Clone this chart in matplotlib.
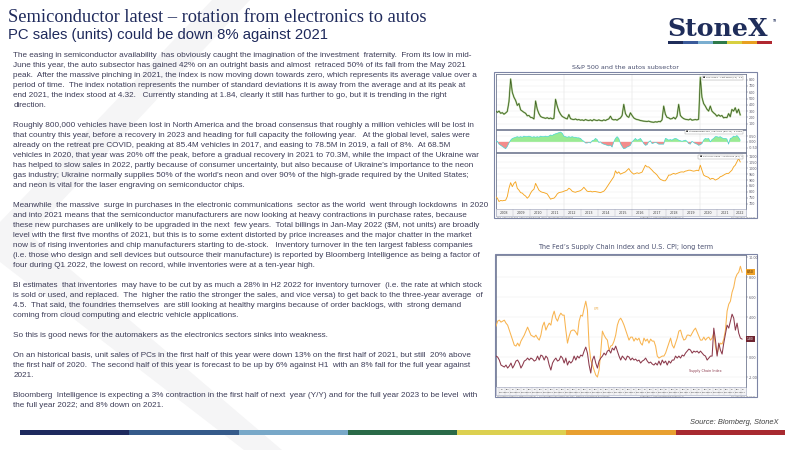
import matplotlib

matplotlib.use("Agg")
import matplotlib.pyplot as plt
from matplotlib.patches import Rectangle, Polygon
import numpy as np


W, H = 800, 450
NAVY = "#1f2a5c"
BODY = "#3d3d58"
FRAME = "#7d85a5"
TICK = "#5a5a6a"

TITLE = "Semiconductor latest \u2013 rotation from electronics to autos"
SUBTITLE = "PC sales (units) could be down 8% against 2021"

PARAGRAPHS = [
    [
        "The easing in semiconductor availability  has obviously caught the imagination of the investment  fraternity.  From its low in mid-",
        "June this year, the auto subsector has gained 42% on an outright basis and almost  retraced 50% of its fall from the May 2021",
        "peak.  After the massive pinching in 2021, the index is now moving down towards zero, which represents its average value over a",
        "period of time.  The index notation represents the number of standard deviations it is away from the average and at its peak at",
        "end 2021, the index stood at 4.32.   Currently standing at 1.84, clearly it still has further to go, but it is trending in the right",
        "direction.",
    ],
    [
        "Roughly 800,000 vehicles have been lost in North America and the broad consensus that roughly a million vehicles will be lost in",
        "that country this year, before a recovery in 2023 and heading for full capacity the following year.   At the global level, sales were",
        "already on the retreat pre COVID, peaking at 85.4M vehicles in 2017, and easing to 78.5M in 2019, a fall of 8%.  At 68.5M",
        "vehicles in 2020, that year was 20% off the peak, before a gradual recovery in 2021 to 70.3M, while the impact of the Ukraine war",
        "has helped to slow sales in 2022, partly because of consumer uncertainty, but also because of Ukraine\u2019s importance to the neon",
        "gas industry; Ukraine normally supplies 50% of the world\u2019s neon and over 90% of the high-grade required by the United States;",
        "and neon is vital for the laser engraving on semiconductor chips.",
    ],
    [
        "Meanwhile  the massive  surge in purchases in the electronic communications  sector as the world  went through lockdowns  in 2020",
        "and into 2021 means that the semiconductor manufacturers are now looking at heavy contractions in purchase rates, because",
        "these new purchases are unlikely to be upgraded in the next  few years.  Total billings in Jan-May 2022 ($M, not units) are broadly",
        "level with the first five months of 2021, but this is to some extent distorted by price increases and the major chatter in the market",
        "now is of rising inventories and chip manufacturers starting to de-stock.   Inventory turnover in the ten largest fabless companies",
        "(i.e. those who design and sell devices but outsource their manufacture) is reported by Bloomberg Intelligence as being a factor of",
        "four during Q1 2022, the lowest on record, while inventories were at a ten-year high.",
    ],
    [
        "BI estimates  that inventories  may have to be cut by as much a 28% in H2 2022 for inventory turnover  (i.e. the rate at which stock",
        "is sold or used, and replaced.  The  higher the ratio the stronger the sales, and vice versa) to get back to the three-year average  of",
        "4.5.  That said, the foundries themselves  are still looking at healthy margins because of order backlogs, with  strong demand",
        "coming from cloud computing and electric vehicle applications.",
    ],
    ["So this is good news for the automakers as the electronics sectors sinks into weakness."],
    [
        "On an historical basis, unit sales of PCs in the first half of this year were down 13% on the first half of 2021, but still  20% above",
        "the first half of 2020.  The second half of this year is forecast to be up by 6% against H1  with an 8% fall for the full year against",
        "2021.",
    ],
    [
        "Bloomberg  Intelligence is expecting a 3% contraction in the first half of next  year (Y/Y) and for the full year 2023 to be level  with",
        "the full year 2022; and 8% down on 2021.",
    ],
]

# top chart: three stacked panels, 2008 to mid 2022
TOP_TITLE = "S&P 500 and the autos subsector"
TOP_YEARS = list(range(2008, 2023))
TOP_START, TOP_END = 2007.98, 2022.39
PANEL1 = [
    300, 280, 300, 265, 275, 250, 270, 295, 450, 811,
    600, 520, 470, 390, 420, 320, 300, 280, 265, 225,
    230, 200, 195, 175, 461, 330, 260, 215, 200, 192,
    185, 195, 180, 190, 175, 185, 488, 380, 300, 250,
    215, 200, 185, 175, 245, 180, 170, 165, 175, 160,
    165, 155, 160, 150, 165, 155, 150, 160, 145, 165,
    155, 150, 160, 150, 145, 160, 150, 165, 175, 218,
    170, 160, 165, 155, 175, 190, 230, 407, 260, 218,
    200, 272, 230, 192, 175, 165, 160, 150, 145, 140,
    138, 135, 140, 130, 125, 122, 130, 125, 135, 130,
    160, 380, 250, 200, 192, 175, 180, 200, 175, 218,
    407, 230, 200, 180, 170, 165, 160, 175, 155, 160,
    165, 160, 170, 838, 520, 420, 380, 330, 300, 380,
    300, 272, 250, 218, 240, 218, 230, 192, 200, 195,
    260, 210, 326, 300, 353, 272, 330, 240,
]
PANEL2 = [
    0.05, 0.05, -0.2, -0.3, -0.4, -0.5, -0.6, -0.4, -0.1, 0.15,
    0.3, 0.35, 0.4, 0.45, 0.4, 0.45, 0.4, 0.5, 0.45, 0.45,
    0.5, 0.45, 0.4, 0.45, 0.4, 0.45, 0.4, 0.5, 0.45, 0.45,
    0.5, 0.45, 0.5, 0.6, 0.55, 0.65, 0.7, 0.75, 0.8, 0.85,
    0.75, 0.5, 0.45, 0.4, 0.45, 0.4, 0.45, 0.4, 0.4, 0.35,
    0.35, 0.3, 0.15, 0.05, -0.1, -0.1, -0.05, -0.1, 0.1, 0.15,
    0.3, 0.2, -0.05, 0.0, -0.15, -0.2, -0.25, -0.3, -0.35, -0.3,
    -0.45, 0.0, 0.3, 0.45, 0.3, -0.15, -0.4, -0.6, -0.55, -0.45,
    -0.4, -0.3, 0.0, 0.15, 0.3, 0.15, 0.2, 0.3, 0.1, -0.15,
    -0.3, -0.25, 0.0, 0.1, -0.15, -0.1, -0.05, -0.1, -0.2, -0.2,
    -0.2, -0.2, 0.3, 0.25, 0.15, 0.2, 0.15, 0.25, 0.3, 0.25,
    0.15, 0.1, 0.05, 0.1, 0.15, 0.05, -0.15, -0.2, 0.05, -0.05,
    -0.15, -0.2, -0.3, -0.25, -0.15, 0.15, 0.3, 0.25, 0.3, 0.0,
    0.2, 0.3, 0.45, 0.45, 0.4, 0.45, 0.35, 0.3, 0.3, 0.25,
    -0.2, 0.3, 0.35, 0.5, 0.45, 0.55, 0.4, 0.15,
]
PANEL3 = [
    761, 747, 719, 728, 725, 728, 730, 761, 831, 878,
    844, 872, 886, 831, 815, 794, 790, 775, 765, 747,
    761, 790, 811, 822, 872, 844, 815, 803, 797, 794,
    789, 783, 761, 739, 745, 747, 761, 783, 794, 797,
    800, 806, 811, 815, 831, 822, 806, 800, 797, 803,
    806, 811, 822, 839, 822, 806, 803, 806, 800, 803,
    803, 800, 797, 794, 800, 806, 822, 844, 865, 886,
    906, 928, 978, 956, 969, 950, 956, 961, 969, 983,
    997, 975, 961, 950, 956, 961, 956, 961, 967, 997,
    1025, 1011, 1011, 997, 983, 967, 956, 942, 922, 906,
    900, 894, 894, 914, 942, 942, 950, 956, 950, 956,
    961, 967, 969, 967, 975, 978, 983, 983, 978, 975,
    978, 983, 978, 1025, 983, 942, 933, 928, 922, 906,
    914, 911, 900, 906, 914, 928, 933, 942, 950, 956,
    956, 969, 983, 1011, 1025, 1053, 1081, 1053,
]

# bottom chart: US CPI y/y and the NY Fed supply chain index
LOW_TITLE = "The Fed\u2019s Supply Chain index and U.S. CPI; long term"
LOW_START, LOW_END = 2000.22, 2022.64
CPI = [
    3.1, 3.6, 3.7, 3.5, 3.6, 3.7, 3.4, 3.2, 2.7, 2.2,
    1.7, 1.2, 1.1, 1.4, 1.1, 1.6, 1.9, 2.2, 2.6, 3.0,
    2.6, 2.2, 2.1, 2.0, 2.2, 1.9, 1.7, 2.2, 3.1, 3.5,
    2.7, 3.1, 3.4, 3.2, 4.1, 4.6, 3.9, 3.6, 4.1, 4.4,
    4.2, 4.2, 2.7, 1.4, 2.1, 2.6, 2.7, 2.7, 2.5, 2.2,
    3.6, 4.2, 4.1, 4.9, 5.6, 4.7, 1.1, -0.3, -0.8, -1.3,
    -1.8, -2.0, -1.3, 0.5, 2.6, 2.2, 1.9, 1.7, 0.7, 1.1,
    1.2, 1.6, 2.2, 3.2, 3.7, 3.9, 3.6, 3.2, 2.7, 2.2,
    1.7, 2.0, 2.0, 1.6, 1.9, 1.7, 1.9, 1.4, 1.2, 1.9,
    1.6, 1.8, 1.4, 1.8, 1.6, 1.6, 1.1, 0.1, -0.1, 0.0,
    0.1, 0.1, 0.4, 0.9, 1.4, 1.9, 1.2, 0.9, 1.4, 1.9,
    2.6, 2.7, 2.1, 1.7, 1.8, 2.2, 2.2, 2.1, 2.4, 2.7,
    2.9, 2.5, 2.1, 1.7, 1.7, 2.0, 1.7, 1.9, 2.0, 1.7,
    1.9, 2.4, 1.1, 0.3, 1.0, 1.4, 1.3, 1.8, 2.7, 4.6,
    5.3, 5.6, 6.5, 7.0, 7.9, 8.3, 8.5, 9.1, 8.5,
]
GSCPI = [
    0.1, 0.0, -0.3, -0.8, -0.9, -1.0, -0.8, -1.1, -0.9, -0.6,
    -1.1, -0.8, -0.4, -0.3, -0.6, -1.1, -0.8, -0.4, -0.3, -0.1,
    -0.3, -0.1, -0.2, -0.4, -0.3, 0.1, -0.3, 0.2, 0.1, -0.3,
    0.1, -0.1, -0.8, -1.3, -0.6, -0.3, -0.1, -0.4, -0.3, 0.1,
    -0.1, -0.6, -0.1, -0.8, -0.4, -0.6, -0.4, 0.1, -0.3, 0.1,
    -0.1, 0.2, 0.1, 0.6, 1.0, 0.4, -0.8, -1.6, -0.3, 0.1,
    -0.6, -1.1, -0.4, -0.1, 0.1, 0.4, 0.2, 0.6, 0.7, 0.4,
    0.9, 0.7, 1.1, 0.6, 0.1, -0.3, 0.1, -0.1, -0.3, 0.1,
    0.0, -0.3, -0.1, -0.3, -0.2, -0.4, -0.3, -0.6, -0.4, -0.3,
    -0.1, -0.4, -0.6, -0.5, -0.7, -0.8, -0.6, -0.8, -0.4, -0.8,
    -0.3, -0.6, -0.4, -0.8, -0.4, -0.6, -0.3, -0.3, 0.1, -0.1,
    0.1, -0.1, 0.2, 0.1, 0.4, 0.6, 0.8, 0.7, 0.4, 0.6,
    0.5, 0.6, 0.4, 0.6, 0.4, 0.2, 0.1, -0.3, -0.1, 0.1,
    0.1, 2.9, 1.7, 0.1, 1.4, 0.7, 0.3, 1.4, 2.3, 3.2,
    2.9, 3.6, 4.3, 3.9, 2.7, 3.4, 2.4, 1.9, 1.8,
]
LOW_TICKS = [-2, 0, 2, 4, 6, 8, 10]

LOGO_COLORS = ["#1f2d5a", "#3a5a9a", "#7aaed0", "#2e7a4a", "#d8d040", "#e8a020", "#b02830"]
FOOT_COLORS = ["#1e2a5e", "#355a8a", "#78a8c8", "#2a6a48", "#dcd050", "#e8a030", "#a82a30"]


def px_axes(fig, x0, y0, x1, y1, **kw):
    return fig.add_axes([x0 / W, 1 - y1 / H, (x1 - x0) / W, (y1 - y0) / H], **kw)


def color_bar(ax, x0, x1, y0, y1, colors):
    step = (x1 - x0) / len(colors)
    for i, c in enumerate(colors):
        ax.add_patch(Rectangle((x0 + i * step, y0), step, y1 - y0, facecolor=c, edgecolor="none", zorder=3))


def style_panel(ax, xlim, ylim, ticks, fmt, skip=()):
    ax.set_xlim(*xlim)
    ax.set_ylim(*ylim)
    ax.set_facecolor("white")
    ax.yaxis.tick_right()
    ax.set_yticks(ticks)
    ax.set_yticklabels(["" if t in skip else fmt.format(t) for t in ticks])
    ax.tick_params(axis="y", labelsize=2.4, length=1.2, width=0.3, pad=0.8, colors=TICK)
    ax.set_xticks([])
    ax.grid(axis="y", color="#e8e8e8", lw=0.3)
    for s in ax.spines.values():
        s.set_color("#707890")
        s.set_linewidth(0.6)


def legend_tag(ax, text):
    ax.text(0.985, 0.95, "\u25a0 " + text, transform=ax.transAxes, ha="right", va="top",
            fontsize=1.7, color="#333333",
            bbox={"boxstyle": "square,pad=0.5", "fc": "white", "ec": "#9a9a9a", "lw": 0.3}, zorder=6)


def draw_text(bg):
    bg.text(8, 21.5, TITLE, family="Liberation Serif", fontsize=13.2, color=NAVY, va="baseline")
    bg.text(8, 39.3, SUBTITLE, family="Liberation Sans", fontsize=10.75, color=NAVY, va="baseline")
    row = 0
    for para in PARAGRAPHS:
        for line in para:
            bg.text(13.3, 56.6 + 10 * row, line, family="Liberation Sans", fontsize=5.82,
                    color=BODY, va="baseline")
            row += 1
        row += 1


def draw_logo(bg):
    bg.text(667, 36, "StoneX", family="DejaVu Serif", weight="bold", fontsize=18.2,
            color="#1f2d5a", va="baseline")
    bg.text(772, 22, "TM", family="DejaVu Sans", fontsize=2.2, color="#1f2d5a", va="baseline")
    color_bar(bg, 668, 772, 41.3, 44, LOGO_COLORS)


def draw_top_chart(fig, bg):
    bg.text(625, 67.5, TOP_TITLE, family="DejaVu Sans", fontsize=4.6, color="#4a5070",
            ha="center", va="center")
    bg.add_patch(Rectangle((494, 72), 263, 146, facecolor="white", edgecolor=FRAME, lw=0.8, zorder=2))

    x = np.linspace(TOP_START, TOP_END, len(PANEL1))
    xlim = (2008.0, 2022.73)

    ax1 = px_axes(fig, 496, 74, 746, 129)
    style_panel(ax1, xlim, (15, 890), list(range(100, 900, 100)), "{:.0f}")
    ax1.plot(x, PANEL1, color="#b3d298", lw=1.3, zorder=2)
    ax1.plot(x, PANEL1, color="#3b5e1e", lw=0.55, zorder=3)
    legend_tag(ax1, "SPX Index - Last Price (L1)  4.2")

    v2 = np.array(PANEL2)
    x2 = np.linspace(TOP_START, TOP_END, len(PANEL2))
    ax2 = px_axes(fig, 496, 130, 746, 152)
    style_panel(ax2, xlim, (-0.88, 1.03), [-0.5, 0.0, 0.5], "{:.2f}")
    ax2.fill_between(x2, 0, v2, where=v2 >= 0, interpolate=True, color="#9aea94", lw=0, zorder=2)
    ax2.fill_between(x2, 0, v2, where=v2 <= 0, interpolate=True, color="#f28c8c", lw=0, zorder=2)
    ax2.plot(x2, v2, color="#3ed6d6", lw=0.45, zorder=3)
    legend_tag(ax2, "Standardized SPX / S5AUCO (RSI 14)  0.2584")

    x3 = np.linspace(TOP_START, TOP_END, len(PANEL3))
    ax3 = px_axes(fig, 496, 153, 746, 209)
    style_panel(ax3, xlim, (656, 1128), list(range(700, 1150, 50)), "{:.0f}")
    ax3.plot(x3, PANEL3, color="#f5a623", lw=0.65, zorder=3)
    legend_tag(ax3, "S5AUCO Index - Last Price (R1)  1")

    for ax in (ax1, ax2, ax3):
        for yr in (2012, 2016, 2020):
            ax.axvline(yr, color="#dcdcdc", lw=0.35, zorder=1)

    band = px_axes(fig, 496, 209, 746, 216)
    band.set_xlim(*xlim)
    band.set_ylim(0, 1)
    band.set_facecolor("#f3f3f5")
    band.set_xticks([])
    band.set_yticks([])
    for s in band.spines.values():
        s.set_color("#9aa0b8")
        s.set_linewidth(0.4)
    for yr in TOP_YEARS:
        band.axvline(yr, color="#b8b8c4", lw=0.3)
        mid = min(yr + 0.5, (yr + xlim[1]) / 2)
        band.text(mid, 0.5, str(yr), fontsize=2.4, color="#444444", ha="center", va="center")
    bg.text(497, 217.2, "SPX Index (S&P 500 Index) Standardized  Daily 10JAN2008-10AUG2022",
            fontsize=1.5, color="#777777", va="center")
    bg.text(640, 217.2, "Copyright\u00a9 2022 Bloomberg Finance L.P.", fontsize=1.5,
            color="#777777", va="center")
    bg.text(755, 217.2, "10-Aug-2022 15:01:03", fontsize=1.5, color="#777777", va="center", ha="right")


def draw_low_chart(fig, bg):
    bg.text(625.5, 247, LOW_TITLE, family="DejaVu Sans", fontsize=4.7, color="#4a5070",
            ha="center", va="center")
    bg.add_patch(Rectangle((495, 254), 262, 143, facecolor="white", edgecolor=FRAME, lw=0.8, zorder=2))

    x = np.linspace(LOW_START, LOW_END, len(CPI))
    xlim = (2000.22, 2023.0)
    ax = px_axes(fig, 496, 255, 746, 387)
    # the latest-value tag sits over the 2.00 label, as on the terminal
    style_panel(ax, xlim, (-3.0, 10.23), LOW_TICKS, "{:.2f}", skip=(2,))
    ax.plot(x, CPI, color="#f8b450", lw=0.75, zorder=3)
    ax.plot(x, GSCPI, color="#8c3a4c", lw=0.75, zorder=4)
    ax.text(2009.15, 4.8, "CPI", fontsize=2.4, color="#e8a030", ha="left", va="center")
    ax.text(2017.8, -1.35, "Supply Chain Index", fontsize=2.4, color="#8c3a4c", ha="left", va="center")
    ytr = ax.get_yaxis_transform()
    ax.text(1.004, CPI[-1], "{:.2f}".format(CPI[-1]), transform=ytr, fontsize=2.2, color="#3a2000",
            ha="left", va="center", bbox={"boxstyle": "square,pad=0.3", "fc": "#eea22a", "ec": "none"}, zorder=7)
    ax.text(1.004, GSCPI[-1], "{:.2f}".format(GSCPI[-1]), transform=ytr, fontsize=2.2, color="white",
            ha="left", va="center", bbox={"boxstyle": "square,pad=0.3", "fc": "#6e2430", "ec": "none"}, zorder=7)

    band = px_axes(fig, 496, 387, 746, 395)
    band.set_xlim(*xlim)
    band.set_ylim(0, 1)
    band.set_facecolor("#f3f3f5")
    band.set_xticks([])
    band.set_yticks([])
    for s in band.spines.values():
        s.set_color("#9aa0b8")
        s.set_linewidth(0.4)
    for yr in range(2000, 2023):
        for half, mon in ((0.0, "Jan"), (0.5, "Jul")):
            t = yr + half
            if t < xlim[0] or t > 2022.6:
                continue
            band.axvline(t, color="#c4c4cc", lw=0.25)
            band.text(t + 0.22, 0.72, mon, fontsize=1.7, color="#555555", ha="center", va="center")
            band.text(t + 0.22, 0.3, str(yr), fontsize=1.7, color="#555555", ha="center", va="center")
    bg.text(497, 396.2, "Fed Reserve Bank of New York GSCPI  /  US CPI Urban Consumers YoY NSA  Monthly 31JAN2000-31JUL2022",
            fontsize=1.5, color="#777777", va="center")
    bg.text(640, 396.2, "Copyright\u00a9 2022 Bloomberg Finance L.P.", fontsize=1.5,
            color="#777777", va="center")
    bg.text(755, 396.2, "10-Aug-2022 15:04:11", fontsize=1.5, color="#777777", va="center", ha="right")


def main():
    fig = plt.figure(figsize=(W / 100, H / 100), dpi=100)
    fig.patch.set_facecolor("white")

    bg = fig.add_axes([0, 0, 1, 1])
    bg.set_xlim(0, W)
    bg.set_ylim(H, 0)
    bg.axis("off")

    # faint chevron watermark behind the text
    bg.add_patch(Polygon([(212, 0), (250, 0), (30, 235), (282, 450), (244, 450), (0, 262), (0, 222)],
                         closed=True, facecolor="#f5f5f6", edgecolor="none", zorder=0))

    draw_text(bg)
    draw_logo(bg)
    draw_top_chart(fig, bg)
    draw_low_chart(fig, bg)

    bg.text(778, 424, "Source: Blomberg, StoneX", family="Liberation Sans", style="italic",
            fontsize=5.4, color="#404040", ha="right", va="baseline")
    color_bar(bg, 20, 785, 430, 435, FOOT_COLORS)

    fig.savefig("out.png", dpi=100)


if __name__ == "__main__":
    main()
